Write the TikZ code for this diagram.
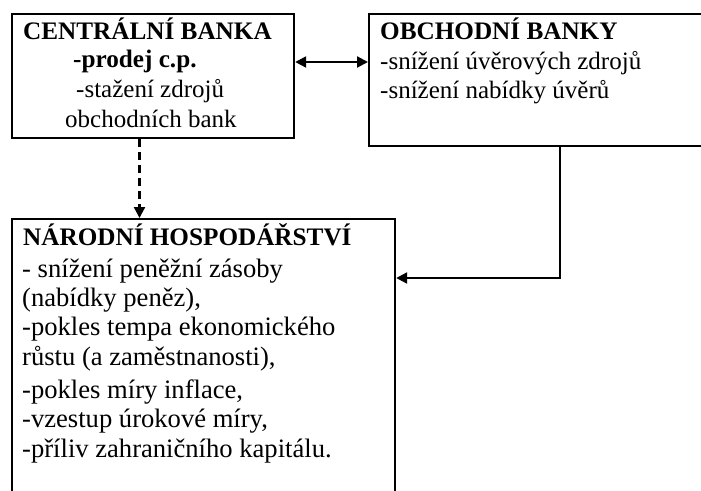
\documentclass[tikz,border=0pt]{standalone}
\usepackage{fontspec}
\setmainfont{Liberation Serif}
\usetikzlibrary{arrows.meta}
\begin{document}
\begin{tikzpicture}[x=1pt,y=-1pt,
  box/.style={draw=black,line width=2.2pt,rectangle,inner sep=0pt,anchor=north west},
  txt/.style={anchor=base west,inner sep=0pt,font=\fontsize{25}{30}\selectfont},
  ltxt/.style={anchor=base west,inner sep=0pt,font=\fontsize{26.6}{30}\selectfont},
  btxt/.style={txt,font=\fontsize{25.2}{30}\selectfont\bfseries},
  conn/.style={line width=2.2pt,-{Triangle[length=11pt,width=11pt]}},
  dconn/.style={conn,dash pattern=on 8pt off 5pt},
  bconn/.style={line width=2.2pt,{Triangle[length=11pt,width=11pt]}-{Triangle[length=11pt,width=11pt]}}]
\useasboundingbox[fill=white] (0,0) rectangle (701,490);
% boxes
\node[box,minimum width=282pt,minimum height=124pt] (cb) at (11,13) {};
\node[box,minimum width=352pt,minimum height=132pt] (ob) at (368,13) {};
\node[box,minimum width=383pt,minimum height=300pt] (nh) at (11,218) {};
% texts box 1
\node[btxt] (cb1) at (23,39) {CENTRÁLNÍ BANKA};
\node[btxt] (cb2) at (73,67) {-prodej c.p.};
\node[txt] (cb3) at (76,97) {-stažení zdrojů};
\node[txt] (cb4) at (65,127) {obchodních bank};
% texts box 2
\node[btxt] (ob1) at (380,39) {OBCHODNÍ BANKY};
\node[txt] (ob2) at (380,69) {-snížení úvěrových zdrojů};
\node[txt] (ob3) at (380,98) {-snížení nabídky úvěrů};
% texts box 3
\node[btxt] (nh1) at (23,245) {NÁRODNÍ HOSPODÁŘSTVÍ};
\node[ltxt] (nh2) at (22,277) {- snížení peněžní zásoby};
\node[ltxt] (nh3) at (22,306) {(nabídky peněz),};
\node[ltxt] (nh4) at (22,335) {-pokles tempa ekonomického};
\node[ltxt] (nh5) at (22,365) {růstu (a zaměstnanosti),};
\node[ltxt] (nh6) at (22,398) {-pokles míry inflace,};
\node[ltxt] (nh7) at (22,427) {-vzestup úrokové míry,};
\node[ltxt] (nh8) at (22,457) {-příliv zahraničního kapitálu.};
% connectors
\coordinate (dy) at (0,62);
\coordinate (dx) at (139.5,0);
\coordinate (rx) at (560,0);
\coordinate (ry) at (0,278);
\draw[bconn] (cb.east |- dy) -- (ob.west |- dy);
\draw[dconn] (cb.south -| dx) -- (nh.north -| dx);
\draw[conn] (ob.south -| rx) |- (nh.east |- ry);
\end{tikzpicture}
\end{document}
